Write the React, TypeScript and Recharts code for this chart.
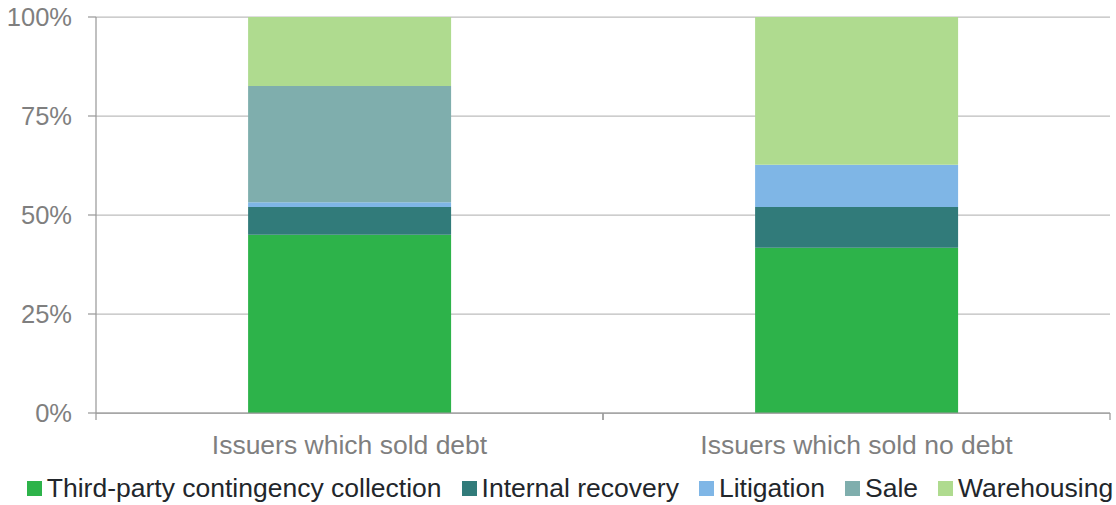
import React from 'react'
import { BarChart, Bar, XAxis, YAxis, CartesianGrid, Legend } from 'recharts'

const categories = ['Issuers which sold debt', 'Issuers which sold no debt']
const thirdParty = [45.0, 41.7]
const internalRecovery = [7.0, 10.3]
const litigation = [1.2, 10.7]
const sale = [29.4, 0]
const warehousing = [17.4, 37.3]
const yTicks = [0, 25, 50, 75, 100]

const series = [
  { key: 'thirdParty', name: 'Third-party contingency collection', color: '#2db34a', values: thirdParty },
  { key: 'internalRecovery', name: 'Internal recovery', color: '#317b7a', values: internalRecovery },
  { key: 'litigation', name: 'Litigation', color: '#7fb6e6', values: litigation },
  { key: 'sale', name: 'Sale', color: '#7faead', values: sale },
  { key: 'warehousing', name: 'Warehousing', color: '#afdb8f', values: warehousing },
]

const data = categories.map((cat, i) => {
  const row: Record<string, string | number> = { cat }
  series.forEach(s => { row[s.key] = s.values[i] })
  return row
})

const FONT = '"Liberation Sans", Arial, sans-serif'
const AXIS = '#9a9a9a'
const LABEL = '#7f7f7f'
const LABEL_GAP = 22

// category label plus the small tick marks that sit between categories
function CatTick(props: any) {
  const { x, y, payload, width, visibleTicksCount } = props
  const band = width / visibleTicksCount
  const axisY = y - LABEL_GAP
  return (
    <g>
      <line x1={x - band / 2} x2={x - band / 2} y1={axisY} y2={axisY + 7} stroke={AXIS} strokeWidth={1.25} />
      <line x1={x + band / 2} x2={x + band / 2} y1={axisY} y2={axisY + 7} stroke={AXIS} strokeWidth={1.25} />
      <text x={x} y={y} dy="0.71em" textAnchor="middle" fill={LABEL} fontSize={26.5} fontFamily={FONT}>
        {payload.value}
      </text>
    </g>
  )
}

// legend keeps the series order (recharts sorts its payload otherwise)
function LegendBox() {
  return (
    <div style={{ display: 'flex', justifyContent: 'center', alignItems: 'center', paddingLeft: 24, height: 33 }}>
      {series.map((s, i) => (
        <div key={s.key} style={{ display: 'flex', alignItems: 'center', marginRight: i < series.length - 1 ? 20 : 0 }}>
          <span style={{ display: 'inline-block', width: 15, height: 15, background: s.color, marginRight: 5 }} />
          <span style={{ fontFamily: FONT, fontSize: 26.5, color: '#22262b', whiteSpace: 'nowrap' }}>{s.name}</span>
        </div>
      ))}
    </div>
  )
}

export default function App() {
  return (
    <div style={{ position: 'absolute', left: 0, top: 0, background: '#fff' }}>
      <BarChart width={1116} height={505} data={data} barCategoryGap="30%"
        margin={{ top: 17, right: 6, left: 0, bottom: 0 }}>
        <CartesianGrid vertical={false} stroke="#bdbdbd" strokeWidth={1.25} />
        <XAxis dataKey="cat" height={59} stroke={AXIS} strokeWidth={1.25}
          tickLine={false} tickSize={0} tickMargin={LABEL_GAP} tick={<CatTick />} interval={0} />
        <YAxis width={96} domain={[0, 100]} ticks={yTicks} tickFormatter={v => `${v}%`}
          stroke={AXIS} strokeWidth={1.25} tickSize={8} tickMargin={16}
          tick={{ fill: LABEL, fontSize: 25.5, fontFamily: FONT }} />
        <Legend verticalAlign="bottom" content={<LegendBox />}
          wrapperStyle={{ left: 0, width: 1116, height: 33 }} />
        {series.map(s => (
          <Bar key={s.key} dataKey={s.key} name={s.name} stackId="a" fill={s.color} isAnimationActive={false} />
        ))}
      </BarChart>
    </div>
  )
}
